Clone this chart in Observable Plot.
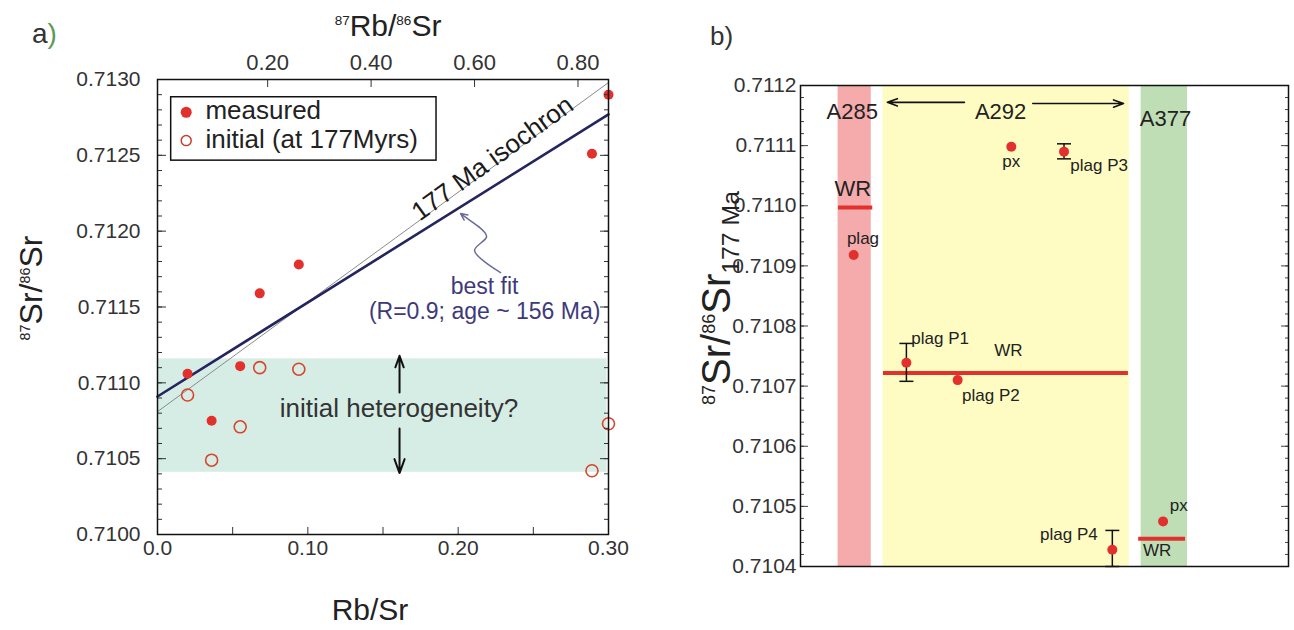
<!DOCTYPE html>
<html><head><meta charset="utf-8">
<script src="https://cdn.jsdelivr.net/npm/d3@7"></script>
<script src="https://cdn.jsdelivr.net/npm/@observablehq/plot@0.6"></script>
<style>
body{margin:0;background:#fff;}
#wrap{position:relative;width:1294px;height:630px;font-family:"Liberation Sans",Arial,sans-serif;}
#wrap svg{position:absolute;top:0;overflow:visible;}
</style></head><body><div id="wrap"></div>
<script>
// ---------- Panel a data ----------
const rbSr       = [0.020, 0.036, 0.055, 0.068, 0.094, 0.289, 0.300];
const srMeasured = [0.71106, 0.71075, 0.71111, 0.71159, 0.71178, 0.71251, 0.71290];
const srInitial  = [0.71092, 0.71049, 0.71071, 0.71110, 0.71109, 0.71042, 0.71073];
const isochron177 = [[0, 0.71081], [0.30, 0.71298]];
const bestFit     = [[0, 0.71091], [0.30, 0.71277]];
const heteroBand  = [{x1: 0, x2: 0.299, y1: 0.71041, y2: 0.711158}];
const heteroArrows = [{x1: 0.161, y1: 0.710936, x2: 0.161, y2: 0.711178}, {x1: 0.161, y1: 0.710699, x2: 0.161, y2: 0.710405}];
const squiggle = [[0.2282, 0.711727], [0.2109, 0.711872], [0.2189, 0.711964], [0.2136, 0.712030]];
const squiggleTip = [0.2016, 0.712116];
const legendBox = [{x1: 0.0091, x2: 0.1856, y1: 0.712465, y2: 0.712883}];
const legendItems = ["measured", "initial (at 177Myrs)"];
const legendDotX = 0.0191;
const legendTextX = 0.0319;
const legendItemY = [0.712784, 0.712597];
const legendTextY = [0.712740, 0.712549];
const isoLabel = [{text: "177 Ma isochron", x: 0.2229, y: 0.712479}];
const fitLabel = [{text: "best fit", x: 0.2176, y: 0.711589}, {text: "(R=0.9; age ~ 156 Ma)", x: 0.2176, y: 0.711424}];
const heteroLabel = [{text: "initial heterogeneity?", x: 0.1607, y: 0.710773}];
const yTicksA = [0.7100, 0.7105, 0.7110, 0.7115, 0.7120, 0.7125, 0.7130];
const yMinorA = d3.range(7100, 7131, 1).map(v => v / 10000);
const xTicksA = [0.05, 0.10, 0.15, 0.20, 0.25, 0.30];
const xLabelValuesA = [0.0, 0.10, 0.20, 0.30];
const xLabelTextA = ["0.0", "0.10", "0.20", "0.30"];
const topTickValues = [0.20, 0.40, 0.60, 0.80];
const topTickText = ["0.20", "0.40", "0.60", "0.80"];
const topDomain = [-0.013, 0.859]; // 87Rb/86Sr span of frame (Rb/Sr 0 to 0.30)

// ---------- Panel b data ----------
const bandSamples = ["A285", "A292", "A377"];
const bandX1 = [7.7, 16.9, 69.8];
const bandX2 = [14.5, 67.4, 79.3];
const mineralsB = ["plag", "px", "plag P3", "plag P1", "plag P2", "plag P4", "px"];
const samplesB  = ["A285", "A292", "A292", "A292", "A292", "A292", "A377"];
const posB      = [10.9, 43.2, 54.0, 21.7, 32.2, 63.9, 74.3];
const valuesB   = [0.710918, 0.711098, 0.711090, 0.710739, 0.710710, 0.710428, 0.710475];
const errMineral = ["plag P3", "plag P1", "plag P4"];
const errPos = [54.0, 21.7, 63.9];
const errLo = [0.711078, 0.710708, 0.710400];
const errHi = [0.711103, 0.710771, 0.710460];
const wrSample = ["A285", "A292", "A377"];
const wrValue = [0.710997, 0.710722, 0.710446];
const wrX1 = [7.8, 17.0, 69.3];
const wrX2 = [14.8, 67.2, 78.9];
const sampleLabels = [{text: "A285", x: 10.6, y: 0.711145}, {text: "A292", x: 41.0, y: 0.711145}, {text: "A377", x: 74.8, y: 0.711133}];
const sampleArrows = [{x1: 33.6, x2: 17.8, y: 0.711172}, {x1: 47.6, x2: 66.2, y: 0.711170}];
const wrBigLabel = [{text: "WR", x: 10.7, y: 0.711017}];
const labelsMid = [{text: "plag", x: 12.8, y: 0.710937}, {text: "px", x: 43.2, y: 0.711064}, {text: "WR", x: 42.6, y: 0.710750}, {text: "px", x: 77.5, y: 0.710493}, {text: "WR", x: 73.1, y: 0.710418}];
const labelsStart = [{text: "plag P3", x: 55.3, y: 0.711058}, {text: "plag P1", x: 22.7, y: 0.710770}, {text: "plag P2", x: 33.1, y: 0.710676}];
const labelsEnd = [{text: "plag P4", x: 60.9, y: 0.710444}];
const yTicksB = [0.7104, 0.7105, 0.7106, 0.7107, 0.7108, 0.7109, 0.7110, 0.7111, 0.7112];
const yMinorB = d3.range(35520, 35561, 1).map(v => v / 50000);

// ---------- styles ----------
const FONT = "Liberation Sans, Arial, Helvetica, sans-serif";
const RED = "#e2302c";
const bandColor = {A285: "#f5abab", A292: "#fefcc2", A377: "#bfdeb6"};

// ---------- Panel a ----------
const measured = rbSr.map((x, i) => ({x, y: srMeasured[i]}));
const initial = rbSr.map((x, i) => ({x, y: srInitial[i]}));
const toRbSr = t => (t - topDomain[0]) / (topDomain[1] - topDomain[0]) * 0.30;
const topMap = new Map(topTickValues.map((t, i) => [toRbSr(t), topTickText[i]]));
const botMap = new Map(xLabelValuesA.map((v, i) => [v, xLabelTextA[i]]));
const legend = legendItems.map((t, i) => ({t, y: legendItemY[i], ty: legendTextY[i]}));

const plotA = Plot.plot({
  width: 650, height: 630,
  marginLeft: 157, marginRight: 42, marginTop: 79, marginBottom: 96,
  x: {domain: [0, 0.30]},
  y: {domain: [0.7100, 0.7130]},
  style: {fontFamily: FONT, background: "transparent", color: "#222"},
  marks: [
    Plot.rect(heteroBand, {x1: "x1", x2: "x2", y1: "y1", y2: "y2", fill: "#d6ede5"}),
    Plot.line(isochron177, {x: d => d[0], y: d => d[1], stroke: "#8a8a8a", strokeWidth: 1}),
    Plot.line(bestFit, {x: d => d[0], y: d => d[1], stroke: "#24245e", strokeWidth: 2.6}),
    Plot.text(isoLabel, {x: "x", y: "y", text: "text", rotate: -36, fontSize: 26, fill: "#1a1a1a", lineAnchor: "middle"}),
    Plot.line(squiggle, {x: d => d[0], y: d => d[1], stroke: "#6b6b9a", strokeWidth: 1.5, curve: "catmull-rom"}),
    Plot.arrow([{a: squiggle[squiggle.length - 1], b: squiggleTip}], {x1: d => d.a[0], y1: d => d.a[1], x2: d => d.b[0], y2: d => d.b[1], stroke: "#6b6b9a", strokeWidth: 1.5, headLength: 10, headAngle: 50}),
    Plot.text(fitLabel, {x: "x", y: "y", text: "text", fontSize: 23, fill: "#3d3a7c", lineAnchor: "bottom"}),
    Plot.arrow(heteroArrows, {x1: "x1", y1: "y1", x2: "x2", y2: "y2", stroke: "#111", strokeWidth: 2, headLength: 12, headAngle: 40}),
    Plot.text(heteroLabel, {x: "x", y: "y", text: "text", fontSize: 26, fill: "#333", lineAnchor: "bottom"}),
    Plot.dot(measured, {x: "x", y: "y", r: 5, fill: RED}),
    Plot.dot(initial, {x: "x", y: "y", r: 6, stroke: "#d9452c", strokeWidth: 1.6, fill: "none"}),
    // legend
    Plot.rect(legendBox, {x1: "x1", x2: "x2", y1: "y1", y2: "y2", fill: "white", stroke: "#111", strokeWidth: 1.5}),
    Plot.dot(legend.slice(0, 1), {x: () => legendDotX, y: "y", r: 5.5, fill: RED}),
    Plot.dot(legend.slice(1), {x: () => legendDotX, y: "y", r: 5, stroke: "#c0402c", strokeWidth: 1.5, fill: "none"}),
    Plot.text(legend, {x: () => legendTextX, y: "ty", text: "t", textAnchor: "start", fontSize: 26, fill: "#222", lineAnchor: "bottom"}),
    // axes: labels
    Plot.axisY(yTicksA, {anchor: "left", tickSize: 0, tickPadding: 17, tickFormat: d3.format(".4f"), fontSize: 21, fill: "#333", label: null}),
    Plot.axisX(xLabelValuesA, {anchor: "bottom", tickSize: 0, tickPadding: 6, tickFormat: d => botMap.get(d), fontSize: 21, fill: "#333", label: null}),
    Plot.axisX([...topMap.keys()], {anchor: "top", tickSize: 0, tickPadding: 10, tickFormat: d => topMap.get(d), fontSize: 22, fill: "#333", label: null}),
    // axes: inward ticks
    Plot.axisY(yMinorA, {anchor: "left", tickSize: 5, dx: 5, fill: "none", label: null, stroke: "#333"}),
    Plot.axisY(yTicksA, {anchor: "left", tickSize: 9, dx: 9, fill: "none", label: null, stroke: "#333"}),
    Plot.axisY(yMinorA, {anchor: "right", tickSize: 5, dx: -5, fill: "none", label: null, stroke: "#333"}),
    Plot.axisY(yTicksA, {anchor: "right", tickSize: 9, dx: -9, fill: "none", label: null, stroke: "#333"}),
    Plot.axisX(xTicksA, {anchor: "bottom", tickSize: 7, dy: -7, fill: "none", label: null, stroke: "#333"}),
    Plot.axisX([...topMap.keys()], {anchor: "top", tickSize: 7, dy: 7, fill: "none", label: null, stroke: "#333"}),
    Plot.frame({stroke: "#111", strokeWidth: 1.5})
  ]
});

// ---------- Panel b ----------
const bands = bandSamples.map((s, i) => ({s, x1: bandX1[i], x2: bandX2[i]}));
const pointsB = mineralsB.map((m, i) => ({m, s: samplesB[i], x: posB[i], y: valuesB[i]}));
const errs = errMineral.map((m, i) => ({m, x: errPos[i], lo: errLo[i], hi: errHi[i]}));
const wr = wrSample.map((s, i) => ({s, y: wrValue[i], x1: wrX1[i], x2: wrX2[i]}));
const capSymbol = {draw(ctx, size) { const w = Math.sqrt(size / Math.PI); ctx.moveTo(-w, 0); ctx.lineTo(w, 0); }};

const plotB = Plot.plot({
  width: 644, height: 630,
  marginLeft: 150, marginRight: 6, marginTop: 85, marginBottom: 64,
  x: {domain: [0, 100], axis: null},
  y: {domain: [0.7104, 0.7112]},
  style: {fontFamily: FONT, background: "transparent", color: "#222"},
  marks: [
    Plot.rect(bands, {x1: "x1", x2: "x2", y1: 0.7104, y2: 0.7112, fill: d => bandColor[d.s]}),
    Plot.arrow(sampleArrows, {x1: "x1", x2: "x2", y1: "y", y2: "y", stroke: "#111", strokeWidth: 1.6, headLength: 10, headAngle: 40}),
    Plot.text(sampleLabels, {x: "x", y: "y", text: "text", fontSize: 22, fill: "#222", lineAnchor: "bottom"}),
    Plot.ruleY(wr, {y: "y", x1: "x1", x2: "x2", stroke: RED, strokeWidth: 4}),
    Plot.ruleX(errs, {x: "x", y1: "lo", y2: "hi", stroke: "#111", strokeWidth: 1.5}),
    Plot.dot(errs, {x: "x", y: "lo", r: 7, symbol: capSymbol, stroke: "#111", strokeWidth: 1.5, fill: "none"}),
    Plot.dot(errs, {x: "x", y: "hi", r: 7, symbol: capSymbol, stroke: "#111", strokeWidth: 1.5, fill: "none"}),
    Plot.dot(pointsB, {x: "x", y: "y", r: 5, fill: RED}),
    Plot.text(wrBigLabel, {x: "x", y: "y", text: "text", fontSize: 22, fill: "#222", lineAnchor: "bottom"}),
    Plot.text(labelsMid, {x: "x", y: "y", text: "text", fontSize: 17, fill: "#222", lineAnchor: "bottom"}),
    Plot.text(labelsStart, {x: "x", y: "y", text: "text", fontSize: 17, fill: "#222", lineAnchor: "bottom", textAnchor: "start"}),
    Plot.text(labelsEnd, {x: "x", y: "y", text: "text", fontSize: 17, fill: "#222", lineAnchor: "bottom", textAnchor: "end"}),
    Plot.axisY(yTicksB, {anchor: "left", tickSize: 0, tickPadding: 4, tickFormat: d3.format(".4f"), fontSize: 21, fill: "#333", label: null}),
    Plot.axisY(yMinorB, {anchor: "left", tickSize: 4, dx: 4, fill: "none", label: null, stroke: "#444"}),
    Plot.axisY(yTicksB, {anchor: "left", tickSize: 8, dx: 8, fill: "none", label: null, stroke: "#444"}),
    Plot.axisY(yMinorB, {anchor: "right", tickSize: 4, dx: -4, fill: "none", label: null, stroke: "#444"}),
    Plot.axisY(yTicksB, {anchor: "right", tickSize: 8, dx: -8, fill: "none", label: null, stroke: "#444"}),
    Plot.frame({stroke: "#111", strokeWidth: 1.5})
  ]
});

const wrap = document.getElementById("wrap");
plotA.style.left = "0px";
plotB.style.left = "650px";
wrap.appendChild(plotA);
wrap.appendChild(plotB);

// ---------- rich text titles (with super/subscripts) ----------
function rich(svg, parts, {x, y, size, anchor = "middle", rotate = 0, fill = "#222"}) {
  const t = d3.select(svg).append("text")
    .attr("transform", `translate(${x},${y}) rotate(${rotate})`)
    .attr("text-anchor", anchor).attr("font-size", size)
    .attr("font-family", FONT).attr("fill", fill);
  let shift = 0;
  for (const p of parts) {
    const fs = p.sup || p.sub ? size * (p.scale || 0.45) : size;
    const target = p.sup ? -size * 0.38 : p.sub ? size * 0.22 : 0;
    const ts = t.append("tspan").attr("font-size", fs).attr("dy", target - shift).text(p.t);
    if (p.fill) ts.attr("fill", p.fill);
    shift = target;
  }
  return t;
}
rich(plotA, [{t: "a"}, {t: ")", fill: "#5d9a55"}], {x: 32, y: 43, size: 28, anchor: "start", fill: "#333"});
rich(plotA, [{t: "87", sup: 1}, {t: "Rb/"}, {t: "86", sup: 1}, {t: "Sr"}], {x: 388, y: 36, size: 30});
rich(plotA, [{t: "87", sup: 1}, {t: "Sr/"}, {t: "86", sup: 1}, {t: "Sr"}], {x: 42, y: 288, size: 32, rotate: -90});
rich(plotA, [{t: "Rb/Sr"}], {x: 370, y: 620, size: 30});
rich(plotB, [{t: "b)"}], {x: 60, y: 45, size: 26, anchor: "start", fill: "#333"});
rich(plotB, [{t: "87", sup: 1}, {t: "Sr/"}, {t: "86", sup: 1}, {t: "Sr"}, {t: "177 Ma", sub: 1, scale: 0.62}], {x: 80, y: 298, size: 40, rotate: -90});
</script></body></html>
